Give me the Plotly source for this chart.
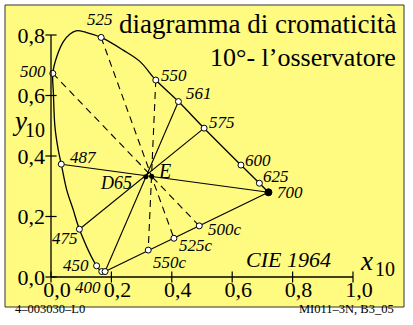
import plotly.graph_objects as go

# spectral locus (CIE 1964, 10°), from the violet end to 700 nm
locus_x = [0.179, 0.168, 0.151, 0.094, 0.074, 0.052, 0.034, 0.024, 0.013, 0.008, 0.006,
           0.019, 0.041, 0.063, 0.083, 0.118, 0.166, 0.239, 0.295, 0.347, 0.422, 0.507,
           0.629, 0.690, 0.720]
locus_y = [0.018, 0.018, 0.037, 0.158, 0.221, 0.288, 0.373, 0.420, 0.497, 0.607, 0.673,
           0.728, 0.778, 0.803, 0.814, 0.808, 0.792, 0.750, 0.712, 0.651, 0.580, 0.492,
           0.370, 0.310, 0.280]

# marked wavelengths on the locus
wl_names = ["400", "450", "475", "487", "500", "525", "550", "561", "575", "600", "625", "700"]
wl_x = [0.168, 0.151, 0.094, 0.034, 0.006, 0.166, 0.347, 0.422, 0.507, 0.629, 0.690, 0.720]
wl_y = [0.018, 0.037, 0.158, 0.373, 0.673, 0.792, 0.651, 0.580, 0.492, 0.370, 0.310, 0.280]
violet_x, violet_y = 0.179, 0.018

# complementary points on the purple line
comp_names = ["500c", "525c", "550c"]
comp_x = [0.491, 0.407, 0.322]
comp_y = [0.169, 0.128, 0.089]

# white points
white_names = ["D65", "E"]
white_x = [0.3138, 0.3333]
white_y = [0.3310, 0.3333]

x_ticks = [0.0, 0.2, 0.4, 0.6, 0.8, 1.0]
y_ticks = [0.0, 0.2, 0.4, 0.6, 0.8]

FONT = "Liberation Serif"
Y_TOP = 272 / 302.5


def px(xp):
    # pixel column -> paper x
    return (xp - 51) / 302


def py(yp):
    # pixel row -> paper y
    return (277 - yp) / 272


def pt(name):
    if name == "violet":
        return violet_x, violet_y
    if name in wl_names:
        i = wl_names.index(name)
        return wl_x[i], wl_y[i]
    i = comp_names.index(name)
    return comp_x[i], comp_y[i]


fig = go.Figure()

# lines through D65 (solid) and through E (dashed)
for a, b in [("487", "700"), ("475", "575"), ("561", "violet")]:
    (x0, y0), (x1, y1) = pt(a), pt(b)
    fig.add_trace(go.Scatter(x=[x0, x1], y=[y0, y1], mode="lines",
                             line=dict(color="black", width=1.1), hoverinfo="skip"))
for a, b in [("500", "500c"), ("525", "525c"), ("550", "550c")]:
    (x0, y0), (x1, y1) = pt(a), pt(b)
    fig.add_trace(go.Scatter(x=[x0, x1], y=[y0, y1], mode="lines",
                             line=dict(color="black", width=1.1, dash="7px,5px"), hoverinfo="skip"))

# spectral locus + purple line
fig.add_trace(go.Scatter(x=locus_x, y=locus_y, mode="lines", line_shape="spline",
                         line=dict(color="black", width=1.3), hoverinfo="skip"))
fig.add_trace(go.Scatter(x=[wl_x[-1], violet_x], y=[wl_y[-1], violet_y], mode="lines",
                         line=dict(color="black", width=1.1), hoverinfo="skip"))

# axis ticks crossing the axes
fig.add_trace(go.Scatter(x=x_ticks, y=[0] * len(x_ticks), mode="markers", cliponaxis=False,
                         marker=dict(symbol="line-ns", size=8, line=dict(color="black", width=1.2)),
                         hoverinfo="skip"))
fig.add_trace(go.Scatter(x=[0] * len(y_ticks), y=y_ticks, mode="markers", cliponaxis=False,
                         marker=dict(symbol="line-ew", size=8, line=dict(color="black", width=1.2)),
                         hoverinfo="skip"))

# point markers
fig.add_trace(go.Scatter(x=wl_x[:-1] + [violet_x] + comp_x, y=wl_y[:-1] + [violet_y] + comp_y,
                         mode="markers", cliponaxis=False,
                         marker=dict(size=6, color="white", line=dict(color="black", width=1)),
                         hoverinfo="skip"))
fig.add_trace(go.Scatter(x=[wl_x[-1]], y=[wl_y[-1]], mode="markers",
                         marker=dict(size=7, color="black", line=dict(color="black", width=1)),
                         hoverinfo="skip"))
fig.add_trace(go.Scatter(x=white_x, y=white_y, mode="markers",
                         marker=dict(size=5, color="black"), hoverinfo="skip"))

# point labels, offsets in pixels from their point
label_shift = {
    "400": (-14, -16), "450": (-21, 0), "475": (-14, -9), "487": (22, 7), "500": (-20, 2),
    "525": (-1, 18), "550": (18, 5), "561": (21, 8), "575": (18, 6), "600": (17, 5),
    "625": (17, 7), "700": (22, 0), "500c": (26, -4), "525c": (22, -7), "550c": (22, -12),
}
for name, (dx, dy) in label_shift.items():
    x0, y0 = pt(name)
    fig.add_annotation(x=x0, y=y0, xref="x", yref="y", text=f"<i>{name}</i>", showarrow=False,
                       xshift=dx, yshift=dy, font=dict(family=FONT, size=17, color="black"))
for name, x0, y0, dx, dy, size in [("D65", white_x[0], white_y[0], -30, -6, 18),
                                   ("E", white_x[1], white_y[1], 13, 5, 20)]:
    fig.add_annotation(x=x0, y=y0, xref="x", yref="y", text=f"<i>{name}</i>", showarrow=False,
                       xshift=dx, yshift=dy, font=dict(family=FONT, size=size, color="black"))

# titles and axis names
texts = [
    ("diagramma di cromaticità", 398, 24, "right", 27, False),
    ("10°- l’osservatore", 398, 58, "right", 26, False),
    ("CIE 1964", 333, 259, "right", 22, True),
    ("x", 366, 261, "center", 27, True),
    ("10", 385, 269, "center", 20, False),
    ("y", 19, 121, "center", 27, True),
    ("10", 35, 130, "center", 20, False),
]
for t, xp, yp, anchor, size, ital in texts:
    fig.add_annotation(x=px(xp), y=py(yp), xref="paper", yref="paper",
                       text=f"<i>{t}</i>" if ital else t, showarrow=False, xanchor=anchor,
                       yanchor="middle", font=dict(family=FONT, size=size, color="black"))

fig.add_annotation(x=px(13), y=py(318), xref="paper", yref="paper", text="4–003030–L0",
                   showarrow=False, xanchor="left", font=dict(family=FONT, size=12.5, color="black"))
fig.add_annotation(x=px(396), y=py(318), xref="paper", yref="paper", text="MI011–3N, B3_05",
                   showarrow=False, xanchor="right", font=dict(family=FONT, size=12.5, color="black"))

# yellow frame and axis lines
fig.add_shape(type="rect", xref="paper", yref="paper", x0=px(5), x1=px(404), y0=py(307), y1=py(5),
              fillcolor="#fffa80", line=dict(color="#333333", width=1), layer="below")
fig.add_shape(type="line", xref="paper", yref="paper", x0=0, x1=1, y0=0, y1=0,
              line=dict(color="black", width=1.3))
fig.add_shape(type="line", xref="paper", yref="paper", x0=0, x1=0, y0=0, y1=0.8 / Y_TOP,
              line=dict(color="black", width=1.3))

axis_font = dict(family=FONT, size=22, color="black")
fig.update_xaxes(range=[0, 1.0], tickvals=x_ticks, tickformat=".1f", ticks="", showgrid=False,
                 zeroline=False, showline=False, tickfont=axis_font, ticklabelshift=6,
                 ticklabelstandoff=-3)
fig.update_yaxes(range=[0, Y_TOP], tickvals=y_ticks, tickformat=".1f", ticks="", showgrid=False,
                 zeroline=False, showline=False, tickfont=axis_font, ticklabelstandoff=5)

fig.update_layout(
    width=413, height=325, autosize=False,
    margin=dict(l=51, r=60, t=5, b=48),
    paper_bgcolor="white", plot_bgcolor="rgba(0,0,0,0)",
    separators=",.", showlegend=False,
)

fig.write_html("out.html", config={"displayModeBar": False},
               post_script="document.body.style.margin = '0';")
